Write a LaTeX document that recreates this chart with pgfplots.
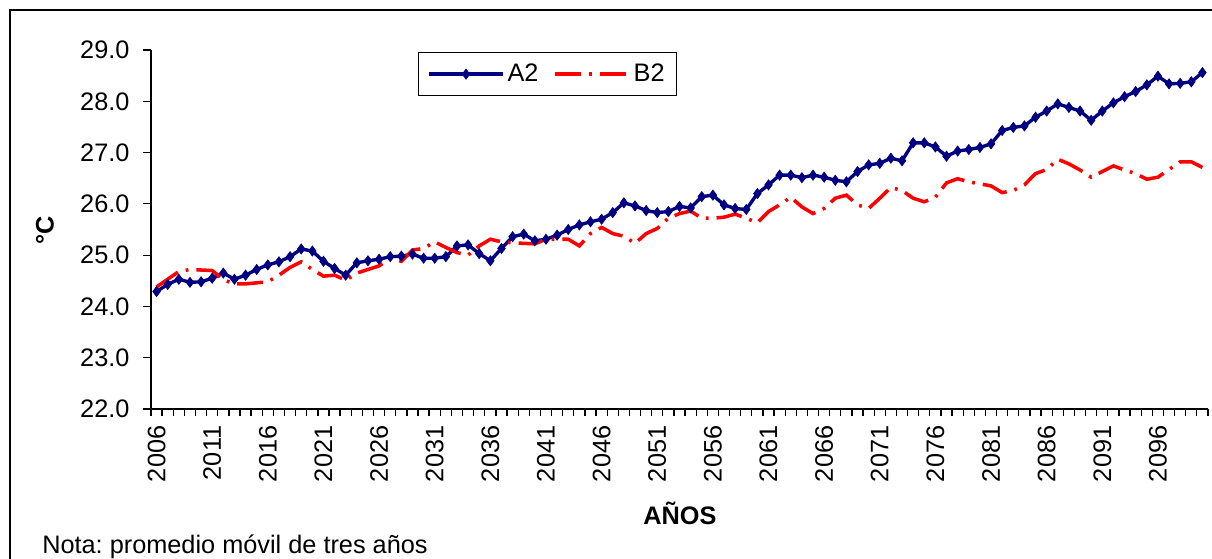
\documentclass[border=0pt]{standalone}
\usepackage{fontspec}
\setmainfont{Liberation Sans}
\usepackage{pgfplots}
\pgfplotsset{compat=1.18}
\definecolor{navyA}{RGB}{0,0,128}
\definecolor{redB}{RGB}{255,0,0}
\frenchspacing

\pgfplotstableread{
year A2
2006 24.29
2007 24.43
2008 24.53
2009 24.47
2010 24.48
2011 24.55
2012 24.65
2013 24.53
2014 24.61
2015 24.72
2016 24.81
2017 24.87
2018 24.97
2019 25.12
2020 25.08
2021 24.88
2022 24.74
2023 24.61
2024 24.85
2025 24.89
2026 24.92
2027 24.97
2028 24.98
2029 25.02
2030 24.94
2031 24.94
2032 24.97
2033 25.18
2034 25.20
2035 25.03
2036 24.89
2037 25.13
2038 25.36
2039 25.41
2040 25.28
2041 25.31
2042 25.39
2043 25.50
2044 25.59
2045 25.65
2046 25.70
2047 25.83
2048 26.02
2049 25.96
2050 25.87
2051 25.83
2052 25.85
2053 25.95
2054 25.92
2055 26.14
2056 26.17
2057 25.98
2058 25.91
2059 25.89
2060 26.20
2061 26.37
2062 26.56
2063 26.56
2064 26.51
2065 26.56
2066 26.52
2067 26.46
2068 26.43
2069 26.63
2070 26.76
2071 26.79
2072 26.89
2073 26.84
2074 27.19
2075 27.19
2076 27.11
2077 26.93
2078 27.03
2079 27.06
2080 27.10
2081 27.17
2082 27.43
2083 27.49
2084 27.52
2085 27.69
2086 27.81
2087 27.95
2088 27.88
2089 27.81
2090 27.63
2091 27.81
2092 27.97
2093 28.09
2094 28.19
2095 28.32
2096 28.49
2097 28.34
2098 28.35
2099 28.38
2100 28.56
}\tableA

\pgfplotstableread{
year B2
2006 24.38
2007 24.53
2008 24.68
2009 24.72
2010 24.71
2011 24.70
2012 24.52
2013 24.44
2014 24.44
2015 24.46
2016 24.48
2017 24.61
2018 24.76
2019 24.87
2020 24.72
2021 24.59
2022 24.61
2023 24.51
2024 24.65
2025 24.72
2026 24.79
2027 24.94
2028 24.88
2029 25.10
2030 25.13
2031 25.26
2032 25.15
2033 25.05
2034 25.00
2035 25.18
2036 25.31
2037 25.26
2038 25.24
2039 25.23
2040 25.22
2041 25.31
2042 25.31
2043 25.31
2044 25.18
2045 25.42
2046 25.54
2047 25.42
2048 25.37
2049 25.23
2050 25.42
2051 25.52
2052 25.72
2053 25.81
2054 25.86
2055 25.72
2056 25.72
2057 25.74
2058 25.80
2059 25.72
2060 25.63
2061 25.85
2062 25.98
2063 26.13
2064 25.94
2065 25.81
2066 25.91
2067 26.11
2068 26.17
2069 25.98
2070 25.91
2071 26.11
2072 26.32
2073 26.26
2074 26.11
2075 26.04
2076 26.13
2077 26.41
2078 26.49
2079 26.43
2080 26.39
2081 26.35
2082 26.22
2083 26.26
2084 26.37
2085 26.59
2086 26.67
2087 26.87
2088 26.78
2089 26.66
2090 26.52
2091 26.63
2092 26.74
2093 26.66
2094 26.59
2095 26.48
2096 26.52
2097 26.67
2098 26.82
2099 26.82
2100 26.71
}\tableB

\begin{document}
\begin{tikzpicture}
\fontsize{18}{21}\selectfont
% canvas 1212x559 px, 1 px = 0.025 cm
\useasboundingbox (0,0) rectangle (30.3,13.975);
% chart area frame (only left and top edges visible)
\draw[line width=1.4pt] (0.25,0) -- (0.25,13.725) -- (30.3,13.725);

\begin{axis}[
  at={(3.775cm,3.75cm)}, anchor=south west,
  width=26.425cm, height=8.975cm, scale only axis,
  xmin=2005.5, xmax=2100.5, ymin=22, ymax=29,
  axis x line=bottom, axis y line=left,
  axis line style={-, line width=1.2pt, black},
  tick align=outside,
  major tick length=0.2cm, minor tick length=0.175cm,
  every tick/.style={black, line width=0.9pt},
  xtick={2006,2011,...,2096},
  minor xtick={2005.5,2006.5,...,2100.5},
  major x tick style={draw=none},
  ytick={22,23,...,29},
  font=\fontsize{18}{21}\selectfont,
  /pgf/number format/assume math mode=true,
  xticklabel style={rotate=90, anchor=east, /pgf/number format/1000 sep={}},
  yticklabel style={/pgf/number format/fixed, /pgf/number format/precision=1,
    /pgf/number format/fixed zerofill, xshift=-0.12cm},
  legend style={at={(axis description cs:0.2526,0.9944)}, anchor=north west,
    draw=black, line width=0.8pt, legend columns=2,
    font=\fontsize{18}{21}\selectfont,
    inner xsep=0.22cm, inner ysep=0.2cm,
    /tikz/every even column/.append style={column sep=0.3cm}},
  legend image code/.code={%
    \draw[mark repeat=2, mark phase=2, #1] plot coordinates {(0cm,0cm) (0.925cm,0cm) (1.85cm,0cm)};},
]
\addplot[navyA, line width=2.4pt, mark=diamond*, mark size=3.6pt,
  mark options={solid, fill=navyA, line width=0.5pt}] table[x=year, y=A2] {\tableA};
\addlegendentry{A2}
\addplot[redB, line width=2.5pt, dash pattern=on 0.65cm off 0.2cm on 0.07cm off 0.2cm]
  table[x=year, y=B2] {\tableB};
\addlegendentry{B2}
\end{axis}

\node[rotate=90, font=\fontsize{18}{21}\selectfont\bfseries] at (1.125,8.225) {°C};
\node[font=\fontsize{18}{21}\selectfont\bfseries] at (17.0,1.15) {AÑOS};
\node[anchor=west, inner sep=0pt] at (1.05,0.3) {Nota: promedio móvil de tres años};
\end{tikzpicture}
\end{document}
